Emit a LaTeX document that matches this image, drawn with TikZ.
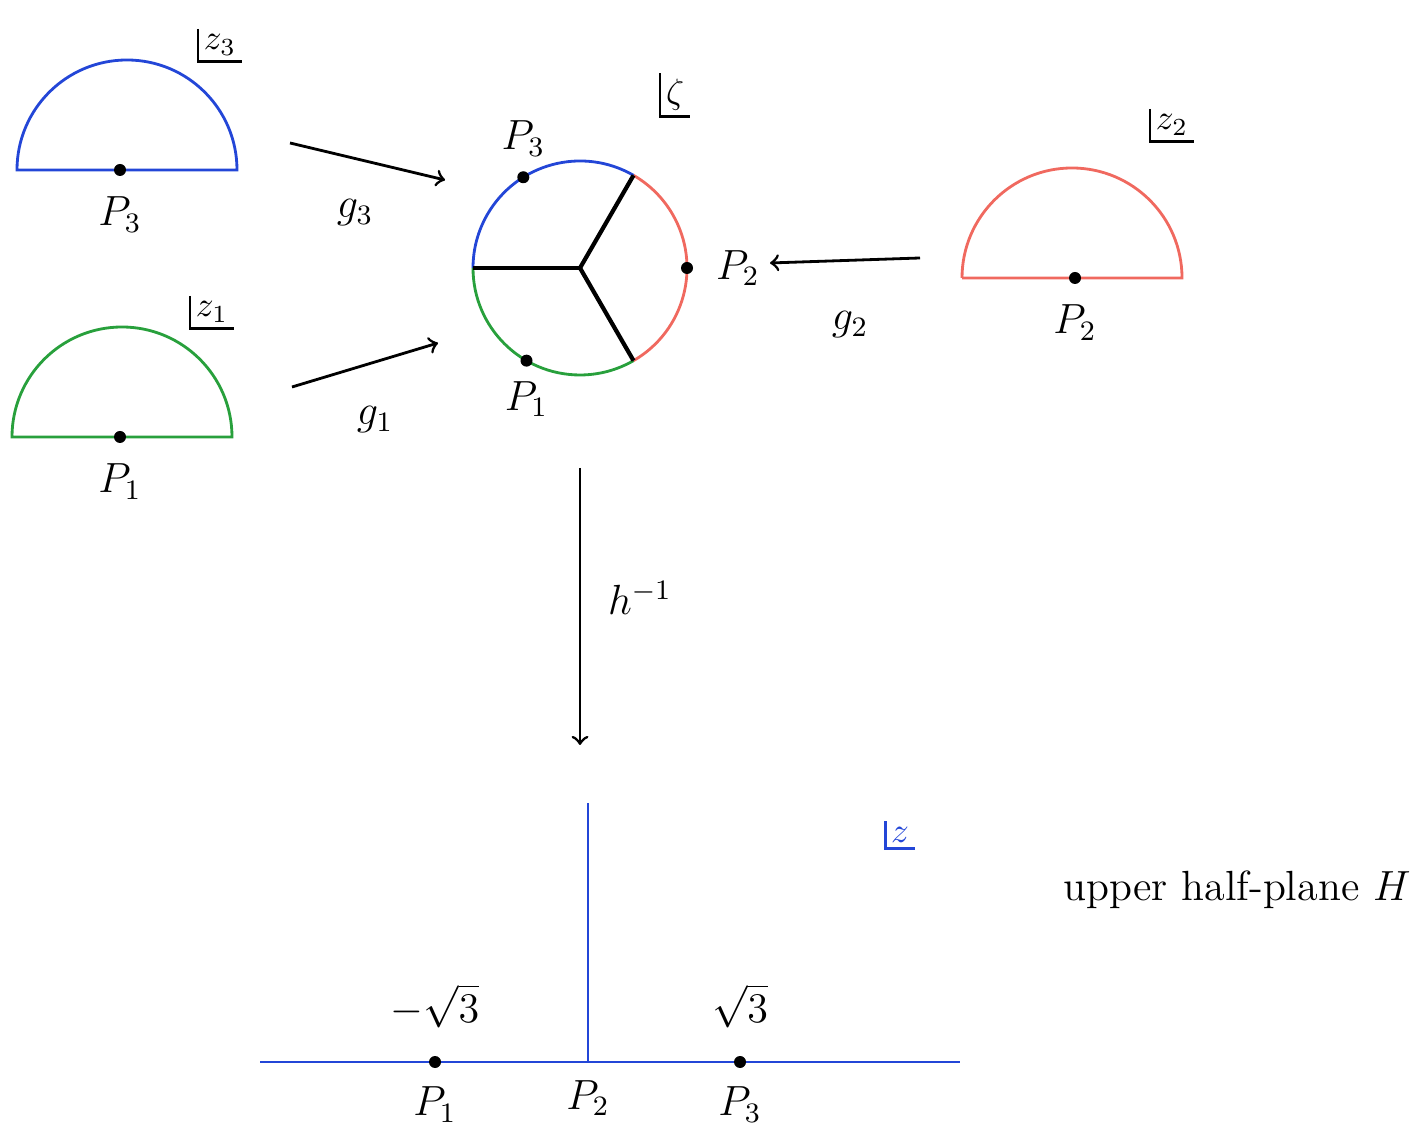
\documentclass[tikz,border=0pt]{standalone}
\usepackage{amsmath}
\usepackage{tikz}
\usetikzlibrary{positioning,arrows,calc}
\definecolor{planeblue}{RGB}{35, 70, 215}
\definecolor{planegreen}{RGB}{40, 160, 60}
\definecolor{planered}{RGB}{240, 105, 95}

\begin{document}
\begin{tikzpicture}[
        halfdisc/.style={thick},
        pt/.style={circle, fill=black, inner sep=0pt, minimum size=1.2mm},
        lab/.style={font=\large},
        plane/.style={font=\normalsize, inner sep=1.5pt},
        map/.style={->, thick}
    ]
        \useasboundingbox (0,0) rectangle (14.27,11.38);

        % the three half-discs
        \draw[halfdisc, planeblue] (0.17,9.68) -- (2.37,9.68) arc[start angle=0, end angle=180, radius=1.1] -- cycle;
        \node[pt] (p3a) at (1.20,9.68) {};
        \node[lab, below=0.08cm of p3a] (p3al) {$P_3$};

        \draw[halfdisc, planegreen] (0.12,7.01) -- (2.32,7.01) arc[start angle=0, end angle=180, radius=1.1] -- cycle;
        \node[pt] (p1a) at (1.20,7.01) {};
        \node[lab, below=0.08cm of p1a] (p1al) {$P_1$};

        \draw[halfdisc, planered] (9.62,8.60) -- (11.82,8.60) arc[start angle=0, end angle=180, radius=1.1] -- cycle;
        \node[pt] (p2a) at (10.75,8.60) {};
        \node[lab, below=0.08cm of p2a] (p2al) {$P_2$};

        % the disc in the zeta plane
        \coordinate (o) at (5.80,8.70);
        \draw[thick, planeblue] (o) ++(60:1.07) arc[start angle=60, end angle=180, radius=1.07];
        \draw[thick, planegreen] (o) ++(180:1.07) arc[start angle=180, end angle=300, radius=1.07];
        \draw[thick, planered] (o) ++(-60:1.07) arc[start angle=-60, end angle=60, radius=1.07];
        \foreach \a in {60,180,300}
            \draw[very thick] (o) -- ++(\a:1.07);
        \node[pt] (q3) at ($(o)+(122:1.07)$) {};
        \node[pt] (q1) at ($(o)+(240:1.07)$) {};
        \node[pt] (q2) at ($(o)+(0:1.07)$) {};
        \node[lab, above=0.02cm of q3] {$P_3$};
        \node[lab, below=0.02cm of q1] {$P_1$};
        \node[lab, right=0.1cm of q2] {$P_2$};

        % plane labels
        \node[plane] (zt) at (2.20,10.93) {$z_3$};
        \node[plane] (zo) at (2.12,8.26) {$z_1$};
        \node[plane] (zw) at (11.72,10.13) {$z_2$};
        \node[plane] (ze) at (6.75,10.43) {$\zeta$};
        \node[plane, planeblue] (zz) at (9.00,3.03) {$z$};
        \foreach \n in {zt,zo,zw,ze}
            \draw[thick] (\n.north west) |- (\n.south east);
        \draw[thick, planeblue] (zz.north west) |- (zz.south east);

        % the maps
        \coordinate (g3s) at (2.90,9.95);
        \coordinate (g3e) at (4.45,9.58);
        \coordinate (g1s) at (2.92,7.51);
        \coordinate (g1e) at (4.38,7.95);
        \coordinate (g2s) at (9.20,8.80);
        \coordinate (g2e) at (7.70,8.75);
        \coordinate (hs) at (5.80,6.70);
        \coordinate (he) at (5.80,3.93);
        \draw[map] (g3s) -- (g3e);
        \draw[map] (g1s) -- (g1e);
        \draw[map] (g2s) -- (g2e);
        \draw[map] (hs) -- (he);
        \node[lab] (g3l) at (3.55,9.25) {$g_3$};
        \node[lab] (g1l) at (3.75,7.18) {$g_1$};
        \node[lab] (g2l) at (8.50,8.13) {$g_2$};
        \node[lab] (hl) at (6.40,5.40) {$h^{-1}$};

        % upper half-plane
        \coordinate (axl) at (2.60,0.76);
        \coordinate (axr) at (9.60,0.76);
        \coordinate (ax0) at (5.88,0.76);
        \coordinate (axt) at (5.88,3.35);
        \draw[thick, planeblue] (axl) -- (axr);
        \draw[thick, planeblue] (ax0) -- (axt);
        \node[pt] (r1) at (4.35,0.76) {};
        \node[pt] (r3) at (7.40,0.76) {};
        \node[lab, above=0.15cm of r1] {$-\sqrt{3}$};
        \node[lab, above=0.15cm of r3] {$\sqrt{3}$};
        \node[lab, below=0.06cm of r1] {$P_1$};
        \node[lab, below=0.06cm of ax0] {$P_2$};
        \node[lab, below=0.06cm of r3] {$P_3$};
        \node[font=\large] (uhp) at (12.37,2.48) {upper half-plane $H$};
    \end{tikzpicture}
\end{document}
